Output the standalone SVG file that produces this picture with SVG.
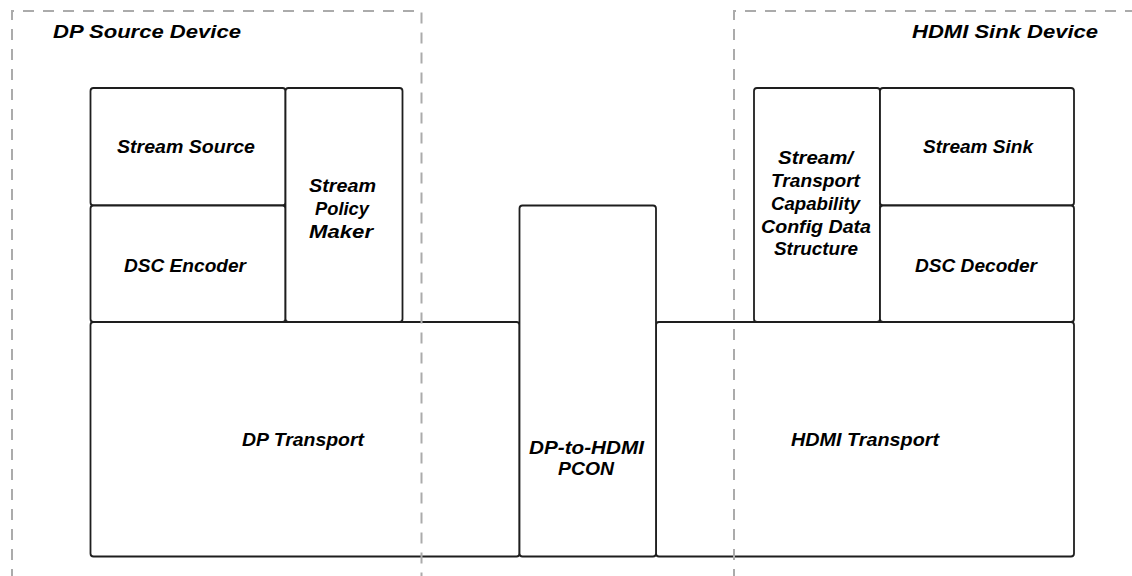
<svg xmlns="http://www.w3.org/2000/svg" width="1132" height="576" viewBox="0 0 1132 576">
<style>
.box{fill:#fff;stroke:#1e1e1e;stroke-width:1.8}
.zone{fill:none;stroke:#ababab;stroke-width:2;stroke-dasharray:11 9}
.t{font-family:"Liberation Sans",Arial,Helvetica,sans-serif;font-weight:bold;font-style:italic;font-size:17.5px;fill:#000}
.h{font-size:18px}
</style>
<rect width="1132" height="576" fill="#fff"/>
<g id="dp-transport">
<rect class="box" x="90.5" y="322" width="429" height="234.5" rx="3"/>
<text class="t" x="242" y="446" textLength="122" lengthAdjust="spacingAndGlyphs">DP Transport</text>
</g>
<g id="hdmi-transport">
<rect class="box" x="656" y="322" width="418" height="234.5" rx="3"/>
<text class="t" x="791" y="446" textLength="148" lengthAdjust="spacingAndGlyphs">HDMI Transport</text>
</g>
<g id="pcon">
<rect class="box" x="519.5" y="205.5" width="136.5" height="351" rx="3"/>
<text class="t" x="529" y="454" textLength="115" lengthAdjust="spacingAndGlyphs">DP-to-HDMI</text>
<text class="t" x="558" y="475" textLength="56" lengthAdjust="spacingAndGlyphs">PCON</text>
</g>
<g id="stream-source">
<rect class="box" x="90.5" y="88" width="195" height="117.5" rx="3"/>
<text class="t" x="117" y="153" textLength="138" lengthAdjust="spacingAndGlyphs">Stream Source</text>
</g>
<g id="dsc-encoder">
<rect class="box" x="90.5" y="205.5" width="195" height="116.5" rx="3"/>
<text class="t" x="124" y="272" textLength="122" lengthAdjust="spacingAndGlyphs">DSC Encoder</text>
</g>
<g id="stream-policy-maker">
<rect class="box" x="285.5" y="88" width="117" height="234" rx="3"/>
<text class="t" x="309" y="192" textLength="67" lengthAdjust="spacingAndGlyphs">Stream</text>
<text class="t" x="315" y="215" textLength="54" lengthAdjust="spacingAndGlyphs">Policy</text>
<text class="t" x="309" y="238" textLength="64" lengthAdjust="spacingAndGlyphs">Maker</text>
</g>
<g id="capability-config">
<rect class="box" x="754" y="88" width="126" height="234" rx="3"/>
<text class="t" x="778" y="164" textLength="75" lengthAdjust="spacingAndGlyphs">Stream/</text>
<text class="t" x="771" y="187" textLength="89" lengthAdjust="spacingAndGlyphs">Transport</text>
<text class="t" x="771" y="210" textLength="89" lengthAdjust="spacingAndGlyphs">Capability</text>
<text class="t" x="761" y="233" textLength="110" lengthAdjust="spacingAndGlyphs">Config Data</text>
<text class="t" x="774" y="255" textLength="84" lengthAdjust="spacingAndGlyphs">Structure</text>
</g>
<g id="stream-sink">
<rect class="box" x="880" y="88" width="194" height="117.5" rx="3"/>
<text class="t" x="923" y="153" textLength="110" lengthAdjust="spacingAndGlyphs">Stream Sink</text>
</g>
<g id="dsc-decoder">
<rect class="box" x="880" y="205.5" width="194" height="116.5" rx="3"/>
<text class="t" x="915" y="272" textLength="122" lengthAdjust="spacingAndGlyphs">DSC Decoder</text>
</g>
<g id="dp-source-device">
<path class="zone" d="M12,580 V11 H421.5 V580"/>
<text class="t h" x="53" y="38" textLength="188" lengthAdjust="spacingAndGlyphs">DP Source Device</text>
</g>
<g id="hdmi-sink-device">
<path class="zone" d="M734,580 V11 H1140"/>
<text class="t h" x="912" y="38" textLength="186" lengthAdjust="spacingAndGlyphs">HDMI Sink Device</text>
</g>
</svg>
